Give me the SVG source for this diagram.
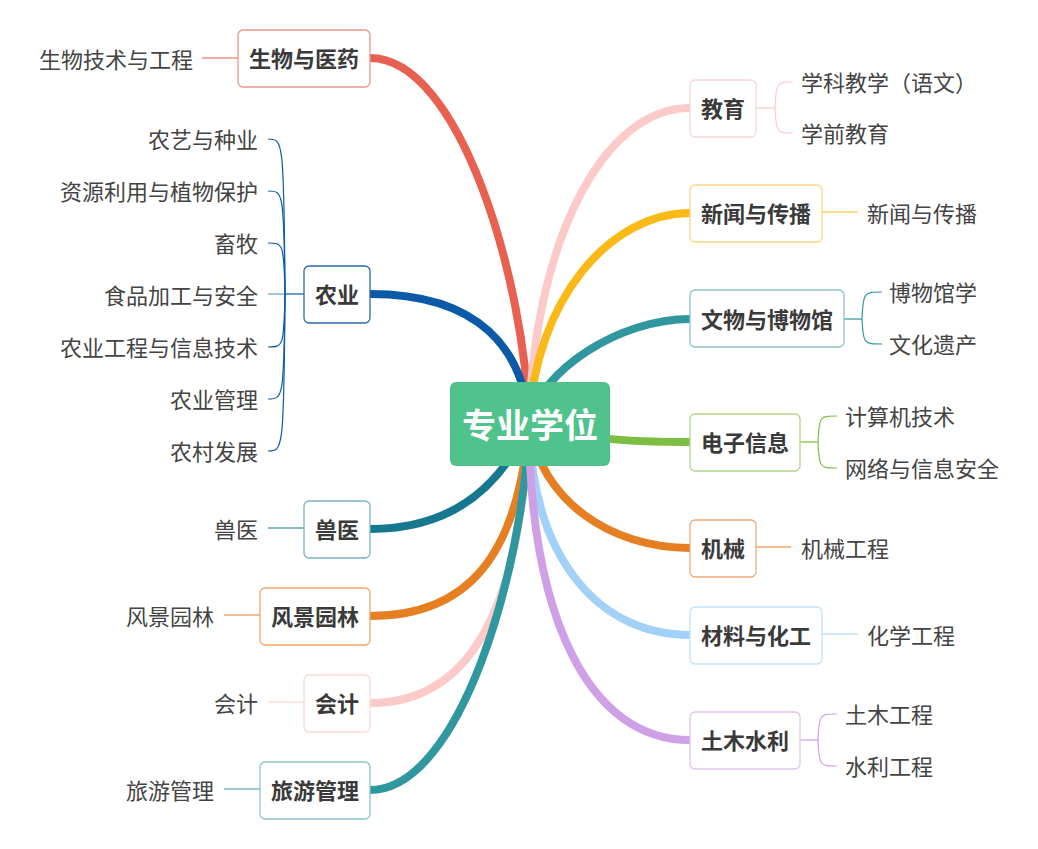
<svg xmlns="http://www.w3.org/2000/svg" width="1038" height="849" viewBox="0 0 1038 849">
<style>
.bg{fill:#ffffff}
.main{fill:none;stroke-width:8;stroke-linecap:round}
.sub{fill:none;stroke-width:1.2}
.box{fill:#ffffff;stroke-width:1.3}
.nt{font-family:"Noto Sans CJK SC","Noto Sans",sans-serif;font-size:22px;font-weight:bold;fill:#3a3a3a;text-anchor:middle;dominant-baseline:central}
.ct{font-family:"Noto Sans CJK SC","Noto Sans",sans-serif;font-size:22px;fill:#444444;dominant-baseline:central}
.l{text-anchor:end}
.r{text-anchor:start}
.root{font-family:"Noto Sans CJK SC","Noto Sans",sans-serif;font-size:34px;font-weight:bold;fill:#ffffff;text-anchor:middle;dominant-baseline:central}
</style>
<rect class="bg" x="0" y="0" width="1038" height="849"/>
<g id="connectors">
  <path class="main" stroke="#e8604f" d="M529 423 C525 280 460 58 370 58"/>
  <path class="main" stroke="#0a5aa7" d="M529 423 C524 350 480 294 370 294"/>
  <path class="main" stroke="#15788f" d="M529 423 C505 478 460 529 370 529"/>
  <path class="main" stroke="#e67e22" d="M529 423 C518 560 465 616 370 616"/>
  <path class="main" stroke="#fdcaca" d="M529 423 C520 620 465 703 370 703"/>
  <path class="main" stroke="#31979f" d="M529 423 C524 570 460 790 370 790"/>
  <path class="main" stroke="#fdcaca" d="M529 423 C533 250 600 108 690 108"/>
  <path class="main" stroke="#fbb917" d="M529 423 C535 300 610 213 690 213"/>
  <path class="main" stroke="#31979f" d="M529 423 C540 370 620 319 690 319"/>
  <path class="main" stroke="#7dbd41" d="M529 425 C580 438 620 442 690 442"/>
  <path class="main" stroke="#e67e22" d="M529 423 C540 500 610 548 690 548"/>
  <path class="main" stroke="#a2d1f8" d="M529 423 C532 560 600 635 690 635"/>
  <path class="main" stroke="#cfa0e5" d="M529 423 C530 620 590 740 690 740"/>
  <path class="sub" stroke="#e8604f" d="M238 58 H202"/>
  <g class="sub" stroke="#0a5aa7">
    <path d="M304 294 H285"/>
    <path d="M285 294 C284 139 283 139 268 139"/>
    <path d="M285 294 C284 191 283 191 268 191"/>
    <path d="M285 294 C284 243 283 243 268 243"/>
    <path stroke="#6a9fc8" d="M285 294 H268"/>
    <path d="M285 294 C284 347 283 347 268 347"/>
    <path d="M285 294 C284 399 283 399 268 399"/>
    <path d="M285 294 C284 451 283 451 268 451"/>
  </g>
  <path class="sub" stroke="#15788f" d="M304 528 H268"/>
  <path class="sub" stroke="#e67e22" d="M260 615 H224"/>
  <path class="sub" stroke="#fdcaca" d="M304 702 H268"/>
  <path class="sub" stroke="#31979f" d="M260 789 H224"/>
  <g class="sub" stroke="#fdcaca">
    <path d="M756 108 H775"/>
    <path d="M775 108 C776 82 777 82 793 82"/>
    <path d="M775 108 C776 133 777 133 793 133"/>
  </g>
  <path class="sub" stroke="#fbb917" d="M822 212 H858"/>
  <g class="sub" stroke="#31979f">
    <path d="M844 319 H862"/>
    <path d="M862 319 C863 292 864 292 882 292"/>
    <path d="M862 319 C863 344 864 344 882 344"/>
  </g>
  <g class="sub" stroke="#7dbd41">
    <path d="M800 442 H818"/>
    <path d="M818 442 C819 416 820 416 837 416"/>
    <path d="M818 442 C819 468 820 468 837 468"/>
  </g>
  <path class="sub" stroke="#e67e22" d="M756 547 H791"/>
  <path class="sub" stroke="#a2d1f8" d="M822 634 H858"/>
  <g class="sub" stroke="#cfa0e5">
    <path d="M800 740 H818"/>
    <path d="M818 740 C819 714 820 714 837 714"/>
    <path d="M818 740 C819 766 820 766 837 766"/>
  </g>
</g>
<g id="root">
  <rect x="450" y="382" width="160" height="84" rx="6" fill="#50c38c"/>
  <text class="root" x="530" y="423">专业学位</text>
</g>
<g id="n-bio">
  <rect class="box" x="238" y="30" width="132" height="57" rx="5" stroke="#e8968d"/>
  <text class="nt" x="304" y="57">生物与医药</text>
  <text class="ct l" x="193" y="57.5">生物技术与工程</text>
</g>
<g id="n-agri">
  <rect class="box" x="304" y="266" width="66" height="57" rx="5" stroke="#2a6aa5"/>
  <text class="nt" x="337" y="293">农业</text>
  <text class="ct l" x="258" y="137.5">农艺与种业</text>
  <text class="ct l" x="258" y="189.5">资源利用与植物保护</text>
  <text class="ct l" x="258" y="241.5">畜牧</text>
  <text class="ct l" x="258" y="293.5">食品加工与安全</text>
  <text class="ct l" x="258" y="345.5">农业工程与信息技术</text>
  <text class="ct l" x="258" y="397.5">农业管理</text>
  <text class="ct l" x="258" y="449.5">农村发展</text>
</g>
<g id="n-vet">
  <rect class="box" x="304" y="501" width="66" height="57" rx="5" stroke="#7ab3c2"/>
  <text class="nt" x="337" y="528">兽医</text>
  <text class="ct l" x="258" y="527.5">兽医</text>
</g>
<g id="n-land">
  <rect class="box" x="260" y="588" width="110" height="57" rx="5" stroke="#f0a56c"/>
  <text class="nt" x="315" y="615">风景园林</text>
  <text class="ct l" x="214" y="614.5">风景园林</text>
</g>
<g id="n-acc">
  <rect class="box" x="304" y="675" width="66" height="57" rx="5" stroke="#fbd9d9"/>
  <text class="nt" x="337" y="702">会计</text>
  <text class="ct l" x="258" y="701.5">会计</text>
</g>
<g id="n-tour">
  <rect class="box" x="260" y="762" width="110" height="57" rx="5" stroke="#8cc4cb"/>
  <text class="nt" x="315" y="789">旅游管理</text>
  <text class="ct l" x="214" y="788.5">旅游管理</text>
</g>
<g id="n-edu">
  <rect class="box" x="690" y="80" width="66" height="57" rx="5" stroke="#f8d6d6"/>
  <text class="nt" x="723" y="107">教育</text>
  <text class="ct r" x="801" y="80.5">学科教学（语文）</text>
  <text class="ct r" x="801" y="131.5">学前教育</text>
</g>
<g id="n-news">
  <rect class="box" x="690" y="185" width="132" height="57" rx="5" stroke="#fcd683"/>
  <text class="nt" x="756" y="212">新闻与传播</text>
  <text class="ct r" x="867" y="211.5">新闻与传播</text>
</g>
<g id="n-museum">
  <rect class="box" x="690" y="290" width="154" height="57" rx="5" stroke="#8ac4ca"/>
  <text class="nt" x="767" y="318">文物与博物馆</text>
  <text class="ct r" x="889" y="290.5">博物馆学</text>
  <text class="ct r" x="889" y="342.5">文化遗产</text>
</g>
<g id="n-elec">
  <rect class="box" x="690" y="414" width="110" height="57" rx="5" stroke="#b0d68b"/>
  <text class="nt" x="745" y="441">电子信息</text>
  <text class="ct r" x="845" y="414.5">计算机技术</text>
  <text class="ct r" x="845" y="466.5">网络与信息安全</text>
</g>
<g id="n-mech">
  <rect class="box" x="690" y="520" width="66" height="57" rx="5" stroke="#eeab78"/>
  <text class="nt" x="723" y="547">机械</text>
  <text class="ct r" x="801" y="546.5">机械工程</text>
</g>
<g id="n-mat">
  <rect class="box" x="690" y="607" width="132" height="57" rx="5" stroke="#c4e2f8"/>
  <text class="nt" x="756" y="634">材料与化工</text>
  <text class="ct r" x="867" y="633.5">化学工程</text>
</g>
<g id="n-civil">
  <rect class="box" x="690" y="712" width="110" height="57" rx="5" stroke="#e0c4ee"/>
  <text class="nt" x="745" y="739">土木水利</text>
  <text class="ct r" x="845" y="712.5">土木工程</text>
  <text class="ct r" x="845" y="764.5">水利工程</text>
</g>
</svg>
